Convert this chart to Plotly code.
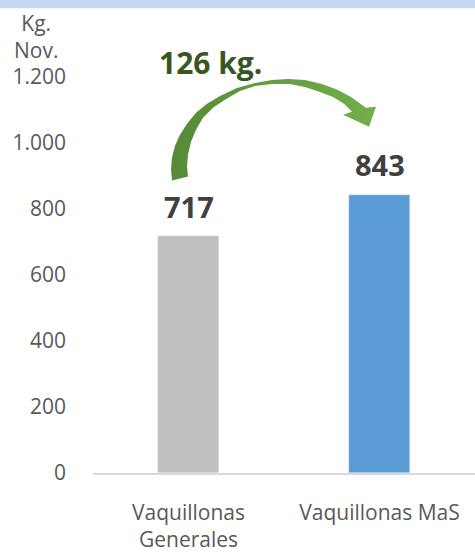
import plotly.graph_objects as go

# ---- data ----
categories = ["Vaquillonas<br>Generales", "Vaquillonas MaS"]
values = [717, 843]
bar_colors = ["#BFBFBF", "#5B9BD5"]
tick_vals = [0, 200, 400, 600, 800, 1000, 1200]
tick_text = ["0", "200", "400", "600", "800", "1.000", "1.200"]
difference_label = "126 kg."
axis_title = "Kg.<br>Nov."

# ---- layout geometry (pixels) ----
W, H = 475, 553
ML, MR, MT, MB = 93, 0, 77, 78
PW, PH = W - ML - MR, H - MT - MB

def px_x(p):
    return (p - ML) / PW

def px_y(p):
    return (H - MB - p) / PH

# decorative curved arrow outline, in pixel coordinates
arrow_x = [172, 171, 172, 175, 180, 187, 196, 207, 220, 237, 255, 272, 288, 305, 322, 338, 351, 361, 366,
           376, 369, 343, 352, 344, 333, 320, 305, 290, 272, 255, 240, 226, 213, 203, 196, 191, 188, 187, 188, 172]
arrow_y = [181, 170, 158, 146, 135, 124, 113, 104, 96, 88, 83, 80, 79, 80, 84, 90, 97, 104, 108,
           107, 127, 115, 112, 104, 97, 92, 87, 84, 84, 86, 91, 99, 108, 118, 130, 142, 155, 167, 177, 181]

fig = go.Figure()
fig.add_trace(go.Bar(
    x=categories, y=values, marker_color=bar_colors, width=0.32,
    hoverinfo="skip", showlegend=False,
))
fig.add_trace(go.Scatter(
    x=arrow_x, y=arrow_y, xaxis="x2", yaxis="y2", mode="lines",
    line=dict(width=0), fill="toself",
    fillgradient=dict(type="horizontal", colorscale=[[0, "#568A37"], [1, "#72B04A"]]),
    hoverinfo="skip", showlegend=False,
))

font_family = "Open Sans"
for c, v in zip(categories, values):
    fig.add_annotation(x=c, y=v, text="<b>%d</b>" % v, showarrow=False, yshift=30,
                       yanchor="middle", xanchor="center",
                       font=dict(family=font_family, size=29, color="#404040"))

fig.add_annotation(xref="paper", yref="paper", x=px_x(210), y=px_y(62), text="<b>" + difference_label + "</b>",
                   showarrow=False, xanchor="center", yanchor="middle",
                   font=dict(family=font_family, size=30, color="#375623"))
fig.add_annotation(xref="paper", yref="paper", x=px_x(36), y=px_y(36), text=axis_title,
                   showarrow=False, xanchor="center", yanchor="middle",
                   font=dict(family=font_family, size=21, color="#595959"))

fig.add_shape(type="rect", xref="paper", yref="paper", x0=px_x(-5), x1=px_x(W + 5),
              y0=px_y(8), y1=px_y(-5), fillcolor="#C5D9F1", line=dict(width=0), layer="below")

fig.update_layout(
    width=W, height=H, margin=dict(l=ML, r=MR, t=MT, b=MB),
    paper_bgcolor="white", plot_bgcolor="white",
    font=dict(family=font_family, size=21, color="#595959"),
    xaxis=dict(showgrid=False, showline=True, linecolor="#D9D9D9", linewidth=1.5,
               ticks="", ticklabelstandoff=20, tickfont=dict(size=21, color="#595959"),
               range=[-0.5, 1.5]),
    yaxis=dict(range=[0, 1200], tickvals=tick_vals, ticktext=tick_text, showgrid=False,
               zeroline=False, showline=False, ticks="", ticklabelstandoff=26,
               tickfont=dict(size=21, color="#595959")),
    xaxis2=dict(overlaying="x", range=[ML, W - MR], visible=False, anchor="y2"),
    yaxis2=dict(overlaying="y", range=[H - MB, MT], visible=False, anchor="x2"),
    bargap=0,
)

fig.write_html("out.html", config={"displayModeBar": False},
               post_script="document.body.style.margin='0';document.body.style.overflow='hidden';")
